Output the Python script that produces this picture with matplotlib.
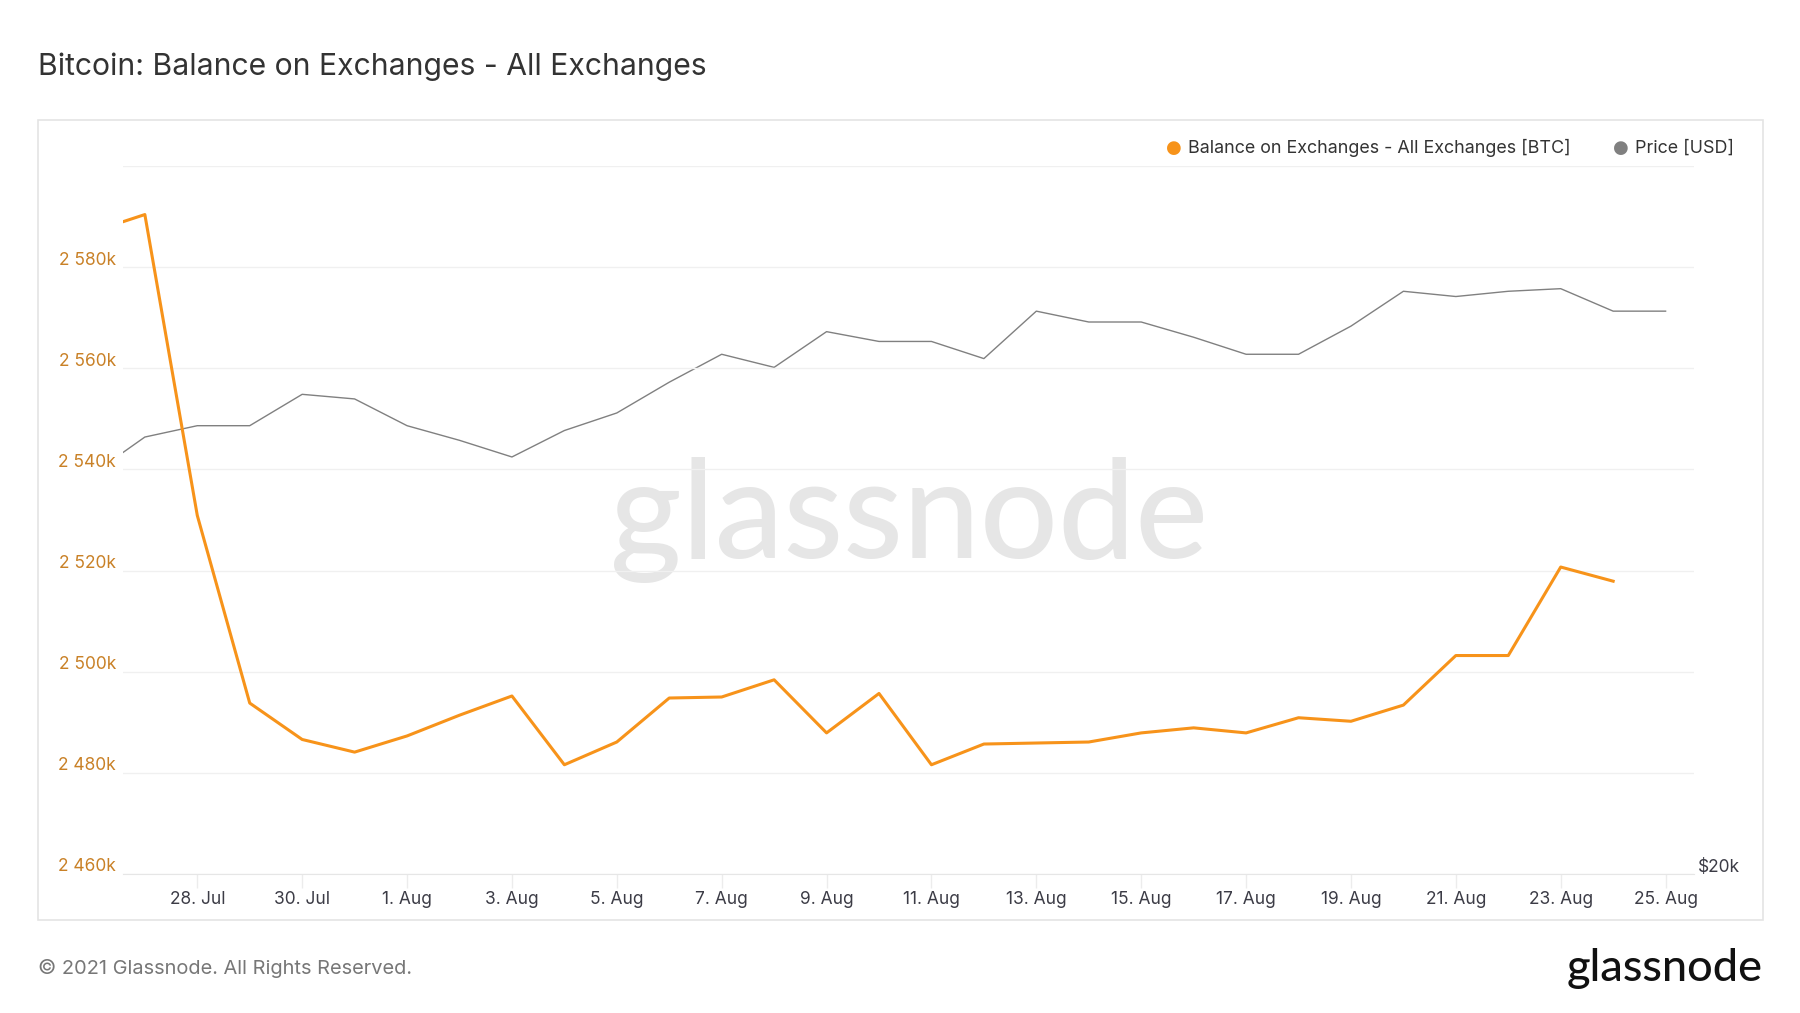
import numpy as np
import matplotlib
matplotlib.use("Agg")
import matplotlib.pyplot as plt
from matplotlib.patches import Rectangle
from matplotlib.transforms import ScaledTranslation
from matplotlib.ticker import FixedLocator, NullLocator, FuncFormatter
import datetime as dt

plt.rcParams['font.family'] = ['Inter', 'DejaVu Sans']

# daily values, 26 Jul 2021 onwards
balance_btc_k = [2587.0, 2590.4, 2530.9, 2493.8, 2486.6, 2484.1, 2487.3, 2491.4,
                 2495.2, 2481.6, 2486.1, 2494.8, 2495.0, 2498.4, 2487.9, 2495.7,
                 2481.6, 2485.7, 2485.9, 2486.1, 2487.9, 2488.9, 2487.9, 2490.9,
                 2490.2, 2493.4, 2503.2, 2503.2, 2520.7, 2517.9]
price_usd = [37200, 39400, 40100, 40100, 42100, 41800, 40100, 39200, 38200,
             39800, 40900, 42900, 44800, 43900, 46400, 45700, 45700, 44500,
             47900, 47100, 47100, 46000, 44800, 44800, 46800, 49400, 49000,
             49400, 49600, 47900, 47900]
start = dt.datetime(2021, 7, 26)
bal_dates = [start + dt.timedelta(days=i) for i in range(len(balance_btc_k))]
price_dates = [start + dt.timedelta(days=i) for i in range(len(price_usd))]
xtick_dates = [dt.datetime(2021, 7, 28) + dt.timedelta(days=2 * i) for i in range(15)]
ytick_vals = [2460, 2480, 2500, 2520, 2540, 2560, 2580, 2600]

ORANGE = '#f7931a'
LABEL_ORANGE = '#c98127'
GRAY = '#808080'

fig = plt.figure(figsize=(18, 10.13), dpi=100)
fig.patch.set_facecolor('white')

# outer card
fig.patches.append(Rectangle((38 / 1800, 93 / 1013), 1725 / 1800, 800 / 1013,
                             transform=fig.transFigure, fill=False,
                             edgecolor='#e4e4e4', linewidth=1.2, zorder=0))

ax = fig.add_axes([123 / 1800, 139 / 1013, 1571 / 1800, 708 / 1013])
ax2 = ax.twinx()
ax.set_zorder(2)
ax.patch.set_visible(False)
ax2.set_zorder(1)

# price (gray, log scale right axis)
ax2.plot(price_dates, price_usd, color=GRAY, linewidth=1.0, zorder=2)
ax2.set_yscale('log')
ax2.set_ylim(20000, 60000)
ax2.yaxis.set_major_locator(FixedLocator([20000]))
ax2.yaxis.set_minor_locator(NullLocator())
ax2.yaxis.set_major_formatter(FuncFormatter(lambda v, p: '$20k'))
ax2.tick_params(axis='y', length=0, pad=3, labelsize=12.5, labelcolor='#3c3c46')
for lab in ax2.get_yticklabels():
    lab.set_transform(lab.get_transform() + ScaledTranslation(0, 9 / 100, fig.dpi_scale_trans))
ax2.text(0.5, 0.5, 'glassnode', transform=ax2.transAxes, fontsize=99,
         family='Lato', fontweight='medium', color='#e6e6e6',
         ha='center', va='center', zorder=0)

# balance (orange, left axis)
ax.plot(bal_dates, balance_btc_k, color=ORANGE, linewidth=2.2, zorder=3)
ax.set_ylim(2460, 2600)
ax.set_yticks(ytick_vals)
ax.set_yticklabels(['' if v == 2600 else f'2 {v - 2000}k' for v in ytick_vals])
ax.tick_params(axis='y', length=0, pad=5, labelsize=12.5, labelcolor=LABEL_ORANGE)
for lab in ax.get_yticklabels():
    lab.set_transform(lab.get_transform() + ScaledTranslation(0, 9 / 100, fig.dpi_scale_trans))
ax.grid(axis='y', color='#f0f0f0', linewidth=1)

ax.set_xlim(dt.datetime(2021, 7, 26, 14), dt.datetime(2021, 8, 25, 13))
ax.set_xticks(xtick_dates)
ax.set_xticklabels([f'{d.day}. {d.strftime("%b")}' for d in xtick_dates])
ax.tick_params(axis='x', length=10, width=1, color='#ececec', pad=2.5,
               labelsize=12.5, labelcolor='#3c3c46')

for a in (ax, ax2):
    for side in ('top', 'left', 'right'):
        a.spines[side].set_visible(False)
    a.spines['bottom'].set_color('#e6e6e6')
ax2.spines['bottom'].set_visible(False)

# legend
ly = 1 - 148 / 1013
fig.text(1174 / 1800, ly, '\u25cf', color=ORANGE, fontsize=13,
         ha='center', va='center', family='DejaVu Sans')
fig.text(1188 / 1800, ly, 'Balance on Exchanges - All Exchanges [BTC]',
         color='#333333', fontsize=12.9, ha='left', va='center')
fig.text(1621 / 1800, ly, '\u25cf', color=GRAY, fontsize=13,
         ha='center', va='center', family='DejaVu Sans')
fig.text(1635 / 1800, ly, 'Price [USD]',
         color='#333333', fontsize=12.9, ha='left', va='center')

fig.text(38 / 1800, 1 - 67 / 1013, 'Bitcoin: Balance on Exchanges - All Exchanges',
         color='#333333', fontsize=21.7, ha='left', va='center')
fig.text(38 / 1800, 1 - 968 / 1013, '\u00a9 2021 Glassnode. All Rights Reserved.',
         color='#777777', fontsize=14.4, ha='left', va='center')
fig.text(1763 / 1800, 1 - 968 / 1013, 'glassnode', color='#111111', fontsize=32.5,
         family='Lato', fontweight='medium', ha='right', va='center')

fig.savefig('out.png', dpi=100)
